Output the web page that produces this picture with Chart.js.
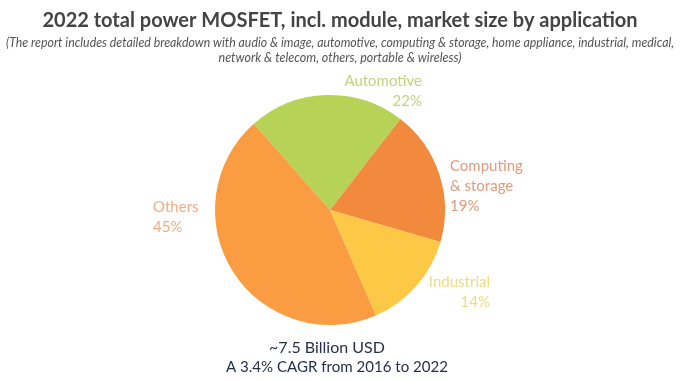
<!DOCTYPE html>
<html><head><meta charset="utf-8">
<script src="https://cdn.jsdelivr.net/npm/chart.js@4"></script>
<style>html,body{margin:0;padding:0;background:#fff;}#wrap{width:680px;height:380px;}</style>
</head><body><div id="wrap"><canvas id="c" width="680" height="380"></canvas></div>
<script>
const categories = ["Automotive", "Computing & storage", "Industrial", "Others"];
const shares = [22, 19, 14, 45];
const sliceColors = ["#b6d257", "#f28a3e", "#fcc846", "#f99c42"];
const labelColors = ["#c2d47c", "#e39a7e", "#eedb86", "#f0ad80"];
const titleText = "2022 total power MOSFET, incl. module, market size by application";
const subtitleLines = ["(The report includes detailed breakdown with audio & image, automotive, computing & storage, home appliance, industrial, medical,", "network & telecom, others, portable & wireless)"];
const footerLines = ["~7.5 Billion USD", "A 3.4% CAGR from 2016 to 2022"];

// label layout: anchor offsets relative to pie centre, alignment, lines
const labelLayout = [
  {dx: 92, dy: -129, align: "right", lines: ["Automotive", "22%"]},
  {dx: 120, dy: -44, align: "left", lines: ["Computing", "& storage", "19%"]},
  {dx: 160, dy: 72, align: "right", lines: ["Industrial", "14%"]},
  {dx: -177, dy: -3, align: "left", lines: ["Others", "45%"]}
];

const textPlugin = {
  id: "texts",
  afterDraw(chart) {
    const ctx = chart.ctx;
    ctx.save();
    ctx.textBaseline = "middle";
    ctx.textAlign = "center";
    ctx.fillStyle = "#444444";
    ctx.font = "bold 20px Lato";
    ctx.fillText(titleText, 340, 21, 606);
    ctx.fillStyle = "#555555";
    ctx.font = "italic 12.5px Lato";
    ctx.fillText(subtitleLines[0], 340, 43, 668);
    ctx.fillText(subtitleLines[1], 340, 58, 251);
    ctx.fillStyle = "#26304b";
    ctx.font = "16px Lato";
    ctx.fillText(footerLines[0], 327, 348);
    ctx.fillText(footerLines[1], 337, 367, 222);
    const arc = chart.getDatasetMeta(0).data[0];
    const cx = arc.x, cy = arc.y;
    ctx.font = "15px Lato";
    labelLayout.forEach((l, i) => {
      ctx.fillStyle = labelColors[i];
      ctx.textAlign = l.align;
      l.lines.forEach((t, j) => {
        ctx.fillText(t, cx + l.dx, cy + l.dy + j * 20);
      });
    });
    ctx.restore();
  }
};

new Chart(document.getElementById("c"), {
  type: "pie",
  data: {
    labels: categories,
    datasets: [{data: shares, backgroundColor: sliceColors, borderWidth: 0}]
  },
  options: {
    responsive: false,
    animation: false,
    rotation: -41.5,
    layout: {padding: {left: 215, right: 235, top: 95, bottom: 55}},
    plugins: {legend: {display: false}, tooltip: {enabled: false}, title: {display: false}}
  },
  plugins: [textPlugin]
});
</script>
</body></html>
